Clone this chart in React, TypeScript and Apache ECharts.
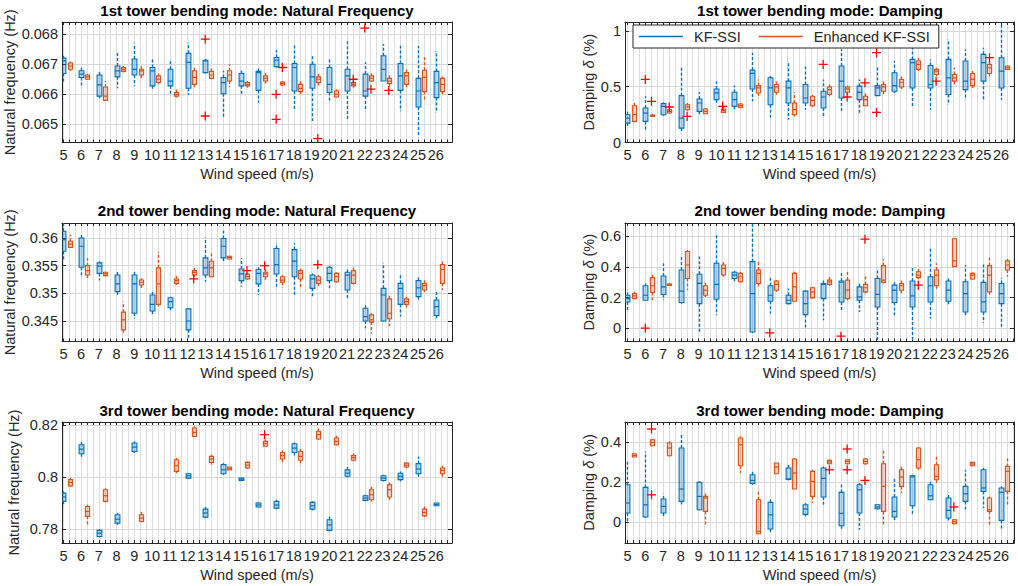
import React, { useEffect, useRef } from "react";
import * as echarts from "echarts";

// ---------- Data ----------
const windSpeeds = [5, 6, 7, 8, 9, 10, 11, 12, 13, 14, 15, 16, 17, 18, 19, 20, 21, 22, 23, 24, 25, 26];
const seriesNames = ["KF-SSI", "Enhanced KF-SSI"];

// Box entries: [min whisker, q1, median, q3, max whisker]; null = no identification
const f1Kf = [
  [0.06642, 0.06669, 0.06711, 0.0672, 0.06728], [0.06628, 0.06656, 0.06667, 0.06678, 0.06689],
  [0.06587, 0.06594, 0.06631, 0.06664, 0.06678], [0.0662, 0.06658, 0.06678, 0.06694, 0.06739],
  [0.06628, 0.06664, 0.06683, 0.06717, 0.06769], [0.06617, 0.06628, 0.06678, 0.06689, 0.06722],
  [0.06594, 0.06628, 0.06644, 0.06683, 0.06717], [0.06598, 0.0662, 0.06706, 0.06736, 0.06772],
  [0.06669, 0.06672, 0.06711, 0.06713, 0.06717], [0.06522, 0.06602, 0.06639, 0.06656, 0.06678],
  [0.06598, 0.06628, 0.06644, 0.06669, 0.06683], [0.06572, 0.06613, 0.06672, 0.06676, 0.06689],
  [0.06689, 0.06692, 0.06713, 0.06722, 0.06747], [0.0655, 0.06611, 0.06689, 0.06702, 0.06767],
  [0.06511, 0.0662, 0.06658, 0.067, 0.06733], [0.06572, 0.06606, 0.06633, 0.06689, 0.06722],
  [0.06511, 0.06611, 0.06661, 0.06683, 0.06778], [0.06544, 0.06594, 0.06611, 0.06667, 0.06706],
  [0.06644, 0.06644, 0.06683, 0.06728, 0.06767], [0.06544, 0.06613, 0.06661, 0.06702, 0.06761],
  [0.06461, 0.06558, 0.06611, 0.06653, 0.06761], [0.06539, 0.06589, 0.06639, 0.06676, 0.06744],
];
const f1En = [
  [0.06678, 0.06683, 0.06694, 0.06704, 0.06709], [0.06648, 0.0665, 0.06658, 0.06664, 0.06667],
  [0.06578, 0.0658, 0.06594, 0.06624, 0.06644], [0.06672, 0.06676, 0.06683, 0.06689, 0.06694],
  [0.06653, 0.06664, 0.06678, 0.06683, 0.06694], [0.06633, 0.06639, 0.0665, 0.06661, 0.06669],
  [0.06589, 0.06594, 0.066, 0.06606, 0.0662], [0.0662, 0.06633, 0.06656, 0.06678, 0.06689],
  [0.0665, 0.06653, 0.06664, 0.06676, 0.06689], [0.06624, 0.06644, 0.06664, 0.06678, 0.067],
  [0.06622, 0.06628, 0.06633, 0.06639, 0.06644], [0.06636, 0.06644, 0.06653, 0.06661, 0.06672],
  [0.06628, 0.06631, 0.06636, 0.06641, 0.06644], [0.066, 0.06609, 0.0662, 0.06633, 0.06644],
  [0.06628, 0.06639, 0.0665, 0.06658, 0.06667], [0.06589, 0.06591, 0.066, 0.06611, 0.06617],
  [0.06622, 0.06628, 0.06633, 0.06639, 0.06644], [0.06641, 0.06644, 0.06653, 0.06661, 0.06669],
  [0.06628, 0.06636, 0.06644, 0.06653, 0.06667], [0.06622, 0.06633, 0.06661, 0.06672, 0.06683],
  [0.06578, 0.06609, 0.06656, 0.0668, 0.06728], [0.066, 0.06609, 0.06633, 0.06653, 0.06658],
];
const f1OutKf = [[13, 0.06783], [13, 0.06528], [17, 0.066], [17, 0.06517], [22, 0.0682]];
const f1OutEn = [[17, 0.06689], [19, 0.06453], [21, 0.0665], [22, 0.06617], [23, 0.06613]];

const d1Kf = [
  [0.129, 0.174, 0.219, 0.249, 0.279], [0.099, 0.189, 0.264, 0.309, 0.414],
  [0.24, 0.249, 0.324, 0.348, 0.36], [0.084, 0.129, 0.219, 0.42, 0.685],
  [0.249, 0.279, 0.354, 0.39, 0.45], [0.354, 0.384, 0.444, 0.48, 0.55],
  [0.294, 0.324, 0.384, 0.45, 0.51], [0.369, 0.48, 0.619, 0.649, 0.805],
  [0.204, 0.339, 0.489, 0.58, 0.595], [0.204, 0.354, 0.489, 0.55, 0.73],
  [0.294, 0.354, 0.399, 0.52, 0.685], [0.234, 0.309, 0.408, 0.46, 0.565],
  [0.279, 0.399, 0.55, 0.685, 0.835], [0.249, 0.384, 0.45, 0.505, 0.565],
  [0.42, 0.42, 0.489, 0.51, 0.685], [0.444, 0.46, 0.51, 0.625, 0.73],
  [0.324, 0.489, 0.715, 0.745, 0.865], [0.294, 0.489, 0.52, 0.69, 0.745],
  [0.339, 0.43, 0.58, 0.745, 0.925], [0.384, 0.474, 0.55, 0.73, 0.835],
  [0.384, 0.55, 0.715, 0.79, 0.85], [0.384, 0.489, 0.64, 0.76, 1.06],
];
const d1En = [
  [0.18, 0.189, 0.249, 0.33, 0.354], [0.231, 0.234, 0.24, 0.246, 0.255],
  [0.258, 0.264, 0.279, 0.294, 0.309], [0.279, 0.294, 0.318, 0.339, 0.354],
  [0.255, 0.258, 0.279, 0.3, 0.309], [0.264, 0.27, 0.285, 0.3, 0.324],
  [0.309, 0.315, 0.33, 0.345, 0.354], [0.399, 0.444, 0.489, 0.51, 0.565],
  [0.429, 0.45, 0.498, 0.52, 0.565], [0.234, 0.249, 0.294, 0.354, 0.45],
  [0.318, 0.33, 0.378, 0.414, 0.429], [0.414, 0.43, 0.474, 0.498, 0.52],
  [0.429, 0.45, 0.48, 0.498, 0.51], [0.324, 0.33, 0.384, 0.414, 0.459],
  [0.429, 0.46, 0.498, 0.52, 0.565], [0.48, 0.498, 0.54, 0.565, 0.595],
  [0.64, 0.655, 0.7, 0.73, 0.76], [0.595, 0.61, 0.64, 0.655, 0.67],
  [0.52, 0.55, 0.58, 0.61, 0.67], [0.489, 0.51, 0.565, 0.619, 0.64],
  [0.58, 0.619, 0.67, 0.7, 0.745], [0.649, 0.655, 0.67, 0.685, 0.69],
];
const d1OutKf = [[6, 0.565], [16, 0.7], [19, 0.805], [19, 0.27]];
const d1OutEn = [[6, 0.369], [7, 0.318], [8, 0.234], [10, 0.324], [17, 0.408], [18, 0.535], [22, 0.55], [25, 0.76]];

const f2Kf = [
  [0.3558, 0.3576, 0.3597, 0.3612, 0.3627], [0.3529, 0.3547, 0.3585, 0.36, 0.3606],
  [0.3523, 0.3536, 0.3549, 0.3555, 0.3558], [0.3497, 0.3503, 0.3517, 0.3533, 0.3541],
  [0.3454, 0.3464, 0.3517, 0.3533, 0.354], [0.3461, 0.3468, 0.348, 0.3497, 0.3503],
  [0.347, 0.3474, 0.3485, 0.3492, 0.3494], [0.3419, 0.3434, 0.345, 0.3472, 0.3473],
  [0.3521, 0.3533, 0.3546, 0.3564, 0.3601], [0.3558, 0.3564, 0.3585, 0.3599, 0.3613],
  [0.3512, 0.3523, 0.3535, 0.3544, 0.3564], [0.3497, 0.3517, 0.3536, 0.3543, 0.3547],
  [0.3512, 0.3535, 0.3552, 0.3581, 0.3591], [0.3497, 0.353, 0.3558, 0.3579, 0.3591],
  [0.3491, 0.3509, 0.3526, 0.3533, 0.3536], [0.3509, 0.3523, 0.3536, 0.3547, 0.355],
  [0.3491, 0.3506, 0.3533, 0.3538, 0.3543], [0.3437, 0.345, 0.3458, 0.3473, 0.3482],
  [0.3449, 0.345, 0.3497, 0.3509, 0.3555], [0.3458, 0.348, 0.3509, 0.3518, 0.3536],
  [0.3485, 0.3494, 0.351, 0.3523, 0.3529], [0.3455, 0.346, 0.3476, 0.3488, 0.3503],
];
const f2En = [
  [0.3582, 0.3583, 0.3589, 0.3594, 0.3606], [0.3527, 0.3533, 0.3541, 0.355, 0.3564],
  [0.3531, 0.3532, 0.3535, 0.3538, 0.3539], [0.3428, 0.3434, 0.3452, 0.3466, 0.3485],
  [0.3509, 0.3515, 0.352, 0.3524, 0.3527], [0.3476, 0.348, 0.3517, 0.3546, 0.3575],
  [0.3515, 0.3518, 0.3523, 0.3526, 0.3533], [0.353, 0.3533, 0.3538, 0.3541, 0.3546],
  [0.3529, 0.353, 0.3546, 0.3558, 0.3573], [0.3562, 0.3562, 0.3565, 0.3567, 0.3568],
  [0.3524, 0.3526, 0.353, 0.3535, 0.3537], [0.3524, 0.353, 0.3535, 0.3538, 0.3546],
  [0.351, 0.352, 0.3524, 0.353, 0.3533], [0.3508, 0.3526, 0.3536, 0.3541, 0.3545],
  [0.3512, 0.3518, 0.3524, 0.353, 0.3533], [0.3519, 0.3521, 0.353, 0.3536, 0.3538],
  [0.3516, 0.3518, 0.3533, 0.3541, 0.3549], [0.3428, 0.3448, 0.3452, 0.3461, 0.3464],
  [0.3441, 0.3454, 0.3464, 0.349, 0.3496], [0.3474, 0.348, 0.3485, 0.349, 0.3494],
  [0.3502, 0.3506, 0.3514, 0.3518, 0.3524], [0.3506, 0.3518, 0.3543, 0.3552, 0.3561],
];
const f2OutKf: number[][] = [];
const f2OutEn = [[12, 0.3526], [15, 0.3541], [16, 0.355], [19, 0.3552]];

const d2Kf = [
  [0.116, 0.171, 0.193, 0.215, 0.233], [0.182, 0.182, 0.215, 0.277, 0.292],
  [0.182, 0.22, 0.27, 0.341, 0.424], [0.16, 0.167, 0.242, 0.38, 0.468],
  [-0.026, 0.16, 0.292, 0.352, 0.468], [0.084, 0.189, 0.286, 0.424, 0.611],
  [0.307, 0.325, 0.347, 0.365, 0.374], [-0.03, -0.026, 0.226, 0.435, 0.688],
  [0.095, 0.176, 0.215, 0.277, 0.336], [0.154, 0.16, 0.182, 0.215, 0.259],
  [-0.004, 0.088, 0.16, 0.242, 0.248], [0.051, 0.193, 0.286, 0.292, 0.314],
  [0.105, 0.171, 0.3, 0.308, 0.369], [0.105, 0.182, 0.204, 0.27, 0.299],
  [-0.092, 0.138, 0.22, 0.325, 0.38], [0.084, 0.167, 0.248, 0.281, 0.308],
  [-0.092, 0.138, 0.211, 0.308, 0.396], [0.062, 0.171, 0.277, 0.336, 0.523],
  [0.154, 0.176, 0.248, 0.308, 0.325], [0.073, 0.105, 0.226, 0.303, 0.413],
  [0.035, 0.105, 0.171, 0.299, 0.424], [0.007, 0.16, 0.226, 0.292, 0.33],
];
const d2En = [
  [0.189, 0.193, 0.211, 0.226, 0.237], [0.182, 0.233, 0.277, 0.33, 0.352],
  [0.281, 0.283, 0.286, 0.289, 0.292], [0.248, 0.325, 0.413, 0.501, 0.512],
  [0.204, 0.215, 0.248, 0.277, 0.308], [0.336, 0.347, 0.391, 0.413, 0.446],
  [0.299, 0.303, 0.336, 0.358, 0.369], [0.27, 0.292, 0.358, 0.38, 0.446],
  [0.237, 0.248, 0.286, 0.308, 0.314], [0.176, 0.176, 0.27, 0.358, 0.369],
  [0.193, 0.198, 0.237, 0.264, 0.27], [0.277, 0.286, 0.303, 0.314, 0.336],
  [0.182, 0.193, 0.248, 0.314, 0.374], [0.226, 0.237, 0.264, 0.286, 0.347],
  [0.292, 0.299, 0.314, 0.409, 0.453], [0.226, 0.248, 0.277, 0.292, 0.325],
  [0.321, 0.33, 0.347, 0.369, 0.387], [0.255, 0.277, 0.347, 0.38, 0.424],
  [0.402, 0.402, 0.44, 0.585, 0.589], [0.316, 0.321, 0.347, 0.358, 0.365],
  [0.22, 0.237, 0.347, 0.409, 0.468], [0.336, 0.38, 0.413, 0.44, 0.453],
];
const d2OutKf = [[6, 0], [13, -0.031], [17, -0.053]];
const d2OutEn = [[18, 0.582], [21, 0.281]];

const f3Kf = [
  [0.7886, 0.7906, 0.7923, 0.7938, 0.7945], [0.8074, 0.809, 0.8108, 0.8125, 0.8142],
  [0.7767, 0.777, 0.7783, 0.7794, 0.7799], [0.7815, 0.7822, 0.7837, 0.7854, 0.7861],
  [0.8093, 0.8099, 0.8116, 0.8132, 0.8138], null,
  null, [0.7992, 0.7996, 0.8005, 0.8013, 0.8016],
  [0.7841, 0.7845, 0.7861, 0.7876, 0.7884], [0.8009, 0.8013, 0.8028, 0.8048, 0.8054],
  [0.7986, 0.7987, 0.7992, 0.7996, 0.7997], [0.7882, 0.7884, 0.7892, 0.79, 0.7903],
  [0.7876, 0.788, 0.7892, 0.7906, 0.7912], [0.8083, 0.8095, 0.8112, 0.8129, 0.8134],
  [0.7871, 0.7876, 0.7889, 0.7902, 0.7906], [0.779, 0.7794, 0.7815, 0.7835, 0.7848],
  [0.7999, 0.8003, 0.8015, 0.8028, 0.8039], [0.7906, 0.791, 0.7919, 0.7928, 0.7932],
  [0.7983, 0.7987, 0.7996, 0.8005, 0.8009], [0.7983, 0.799, 0.8003, 0.8015, 0.8022],
  [0.8, 0.8013, 0.8031, 0.8052, 0.808], [0.7889, 0.7889, 0.7894, 0.79, 0.79],
];
const f3En = [
  [0.7963, 0.7966, 0.7979, 0.799, 0.7997], [0.7815, 0.7848, 0.7867, 0.7886, 0.7893],
  [0.7902, 0.7906, 0.7928, 0.7951, 0.7957], null,
  [0.7825, 0.7828, 0.7841, 0.7854, 0.7871], null,
  [0.8015, 0.8022, 0.8044, 0.8067, 0.8074], [0.8155, 0.8157, 0.8173, 0.819, 0.8196],
  [0.8048, 0.8057, 0.807, 0.808, 0.8086], [0.8028, 0.8028, 0.8034, 0.8039, 0.8039],
  [0.8031, 0.8035, 0.8046, 0.8057, 0.8061], [0.8116, 0.8119, 0.8129, 0.8138, 0.8145],
  [0.8052, 0.807, 0.8083, 0.8095, 0.8103], [0.8044, 0.8065, 0.808, 0.8099, 0.8108],
  [0.8145, 0.8147, 0.8164, 0.8177, 0.819], [0.8122, 0.8125, 0.8138, 0.8151, 0.816],
  [0.8061, 0.8065, 0.8075, 0.8083, 0.8091], [0.7906, 0.7912, 0.7932, 0.7951, 0.7964],
  [0.7912, 0.7923, 0.7951, 0.797, 0.7979], [0.8035, 0.8039, 0.8046, 0.8054, 0.8057],
  [0.7845, 0.785, 0.7863, 0.7876, 0.7886], [0.8, 0.8013, 0.8026, 0.8035, 0.8044],
];
const f3OutKf: number[][] = [];
const f3OutEn = [[16, 0.8164]];

const d3Kf = [
  [-0.003, 0.047, 0.097, 0.188, 0.305], [0.022, 0.027, 0.088, 0.175, 0.355],
  [0.022, 0.047, 0.08, 0.117, 0.143], [0.08, 0.105, 0.167, 0.372, 0.438],
  [0.06, 0.063, 0.13, 0.2, 0.205], null,
  null, [0.188, 0.195, 0.21, 0.238, 0.26],
  [-0.057, -0.033, 0.038, 0.1, 0.122], [0.21, 0.215, 0.217, 0.272, 0.297],
  [0.03, 0.04, 0.067, 0.088, 0.097], [0.088, 0.127, 0.22, 0.272, 0.28],
  [-0.033, -0.017, 0.045, 0.15, 0.193], [-0.037, 0.047, 0.163, 0.188, 0.197],
  [0.063, 0.068, 0.077, 0.088, 0.09], [0.005, 0.027, 0.055, 0.127, 0.222],
  [0.038, 0.083, 0.228, 0.233, 0.238], [0.113, 0.113, 0.133, 0.188, 0.205],
  [0.01, 0.022, 0.06, 0.122, 0.15], [0.063, 0.105, 0.143, 0.18, 0.263],
  [0.072, 0.155, 0.172, 0.263, 0.272], [-0.037, 0.01, 0.15, 0.172, 0.18],
];
const d3En = [
  [0.327, 0.327, 0.335, 0.343, 0.343], [0.38, 0.383, 0.4, 0.413, 0.417],
  [0.33, 0.333, 0.372, 0.397, 0.405], null,
  [-0.017, 0.055, 0.122, 0.13, 0.155], null,
  [0.247, 0.283, 0.388, 0.422, 0.43], [-0.057, -0.057, -0.045, 0.113, 0.163],
  [0.243, 0.243, 0.277, 0.297, 0.297], [0.167, 0.167, 0.247, 0.317, 0.322],
  [0.097, 0.13, 0.205, 0.255, 0.263], [0.29, 0.293, 0.302, 0.31, 0.313],
  [0.29, 0.293, 0.305, 0.313, 0.313], [0.288, 0.293, 0.305, 0.317, 0.322],
  [-0.012, 0.055, 0.18, 0.293, 0.363], [0.147, 0.18, 0.227, 0.263, 0.28],
  [0.263, 0.272, 0.313, 0.372, 0.377], [0.193, 0.213, 0.23, 0.288, 0.338],
  [-0.01, -0.007, 0.003, 0.013, 0.017], [0.28, 0.283, 0.292, 0.3, 0.303],
  [-0.02, 0.055, 0.063, 0.122, 0.13], [0.08, 0.155, 0.255, 0.28, 0.33],
];
const d3OutKf: number[][] = [];
const d3OutEn = [[6, 0.467], [6, 0.138], [16, 0.263], [17, 0.367], [17, 0.263], [18, 0.21], [23, 0.077]];

// y tick labels per panel
const f1Ticks = [0.065, 0.066, 0.067, 0.068];
const d1Ticks = [0, 0.5, 1];
const f2Ticks = [0.345, 0.35, 0.355, 0.36];
const d2Ticks = [0, 0.2, 0.4, 0.6];
const f3Ticks = [0.78, 0.8, 0.82];
const d3Ticks = [0, 0.2, 0.4];

// ---------- Styling / layout ----------
const BLUE = "#0072BD";
const ORANGE = "#D95319";
const BLUE_FILL = "rgba(0,114,189,0.28)";
const ORANGE_FILL = "rgba(217,83,25,0.28)";
const AX = "#262626";
const FONT = "Liberation Sans";
const EN_OFFSET = 0.35;

const panels = [
  { title: "1st tower bending mode: Natural Frequency", yName: "Natural frequency (Hz)", kf: f1Kf, en: f1En, oKf: f1OutKf, oEn: f1OutEn, yMin: 0.0644, yMax: 0.0684, ticks: f1Ticks, col: 0, row: 0 },
  { title: "1st tower bending mode: Damping", yName: "Damping {i|δ} (%)", kf: d1Kf, en: d1En, oKf: d1OutKf, oEn: d1OutEn, yMin: 0, yMax: 1.08, ticks: d1Ticks, col: 1, row: 0 },
  { title: "2nd tower bending mode: Natural Frequency", yName: "Natural frequency (Hz)", kf: f2Kf, en: f2En, oKf: f2OutKf, oEn: f2OutEn, yMin: 0.3413, yMax: 0.3627, ticks: f2Ticks, col: 0, row: 1 },
  { title: "2nd tower bending mode: Damping", yName: "Damping {i|δ} (%)", kf: d2Kf, en: d2En, oKf: d2OutKf, oEn: d2OutEn, yMin: -0.088, yMax: 0.688, ticks: d2Ticks, col: 1, row: 1 },
  { title: "3rd tower bending mode: Natural Frequency", yName: "Natural frequency (Hz)", kf: f3Kf, en: f3En, oKf: f3OutKf, oEn: f3OutEn, yMin: 0.7745, yMax: 0.8213, ticks: f3Ticks, col: 0, row: 2 },
  { title: "3rd tower bending mode: Damping", yName: "Damping {i|δ} (%)", kf: d3Kf, en: d3En, oKf: d3OutKf, oEn: d3OutEn, yMin: -0.103, yMax: 0.502, ticks: d3Ticks, col: 1, row: 2 },
];

const colLayout = [
  { left: 62, width: 390, xMin: -0.08, xMax: 21.92, yNameGap: 41, titleX: 257 },
  { left: 625, width: 389, xMin: -0.14, xMax: 21.73, yNameGap: 21, titleX: 820 },
];
const rowLayout = [
  { top: 22, height: 120.5, titleTop: 3 },
  { top: 223, height: 118.5, titleTop: 203 },
  { top: 422, height: 121, titleTop: 402.5 },
];

const xTickValues: number[] = [];
windSpeeds.forEach((_, i) => {
  for (let j = 0; j < 3; j++) xTickValues.push(i + j / 3);
});
const xLabelValues = windSpeeds.map((_, i) => i);

function boxRender(color: string, fill: string, halfW: number) {
  return (params: any, api: any) => {
    const x = api.value(0);
    const pMin = api.coord([x, api.value(1)]);
    const pQ1 = api.coord([x, api.value(2)]);
    const pMed = api.coord([x, api.value(3)]);
    const pQ3 = api.coord([x, api.value(4)]);
    const pMax = api.coord([x, api.value(5)]);
    const cx = Math.round(pMed[0]) + 0.5;
    const whisk = { stroke: color, lineWidth: 1.4, lineDash: [3, 2] };
    return {
      type: "group",
      children: [
        { type: "line", shape: { x1: cx, y1: pQ3[1], x2: cx, y2: pMax[1] }, style: whisk },
        { type: "line", shape: { x1: cx, y1: pQ1[1], x2: cx, y2: pMin[1] }, style: whisk },
        {
          type: "rect",
          shape: { x: cx - halfW, y: pQ3[1], width: halfW * 2, height: Math.max(pQ1[1] - pQ3[1], 1.5) },
          style: { fill, stroke: color, lineWidth: 1.1 },
        },
        { type: "line", shape: { x1: cx - halfW, y1: pMed[1], x2: cx + halfW, y2: pMed[1] }, style: { stroke: color, lineWidth: 1.2 } },
      ],
    };
  };
}

function plusRender(params: any, api: any) {
  const p = api.coord([api.value(0), api.value(1)]);
  const s = 4.5;
  const st = { stroke: "#FF0000", lineWidth: 1.3 };
  return {
    type: "group",
    children: [
      { type: "line", shape: { x1: p[0] - s, y1: p[1], x2: p[0] + s, y2: p[1] }, style: st },
      { type: "line", shape: { x1: p[0], y1: p[1] - s, x2: p[0], y2: p[1] + s }, style: st },
    ],
  };
}

function buildOption() {
  const grid: any[] = [];
  const xAxis: any[] = [];
  const yAxis: any[] = [];
  const series: any[] = [];
  const title: any[] = [];
  const lbl = { fontFamily: FONT, fontSize: 14.5, color: AX };

  panels.forEach((p, k) => {
    const c = colLayout[p.col];
    const r = rowLayout[p.row];
    grid.push({ left: c.left, top: r.top, width: c.width, height: r.height, containLabel: false });
    title.push({
      text: p.title,
      left: c.titleX,
      top: r.titleTop,
      textAlign: "center",
      padding: 0,
      textStyle: { fontFamily: FONT, fontSize: 15, fontWeight: "bold", color: "#000" },
    });
    const xBase = {
      type: "value",
      gridIndex: k,
      min: c.xMin,
      max: c.xMax,
      axisLine: { show: true, onZero: false, lineStyle: { color: AX, width: 1 } },
      axisTick: { show: true, inside: true, length: 3, customValues: xTickValues, lineStyle: { color: AX } },
    };
    xAxis.push({
      ...xBase,
      position: "bottom",
      name: "Wind speed (m/s)",
      nameLocation: "middle",
      nameGap: 24,
      nameTextStyle: lbl,
      axisLabel: { ...lbl, margin: 5, customValues: xLabelValues, formatter: (v: number) => String(windSpeeds[Math.round(v)]) },
      splitLine: { show: true, lineStyle: { color: "#dcdcdc", width: 1 } },
    });
    xAxis.push({ ...xBase, position: "top", axisLabel: { show: false }, splitLine: { show: false } });
    const yBase = {
      type: "value",
      gridIndex: k,
      min: p.yMin,
      max: p.yMax,
      axisLine: { show: true, onZero: false, lineStyle: { color: AX, width: 1 } },
      axisTick: { show: true, inside: true, length: 4, customValues: p.ticks, lineStyle: { color: AX } },
    };
    yAxis.push({
      ...yBase,
      position: "left",
      name: p.yName,
      nameLocation: "middle",
      nameGap: c.yNameGap,
      nameTextStyle: { ...lbl, rich: { i: { ...lbl, fontStyle: "italic" } } },
      axisLabel: { ...lbl, margin: 4, customValues: p.ticks, formatter: (v: number) => String(v) },
      splitLine: { show: true, lineStyle: { color: "#d6d6d6", width: 1 } },
    });
    yAxis.push({ ...yBase, position: "right", axisLabel: { show: false }, splitLine: { show: false } });

    const kfData = p.kf.map((b, i) => (b ? [i, ...b] : null)).filter((d) => d !== null);
    const enData = p.en.map((b, i) => (b ? [i + EN_OFFSET, ...b] : null)).filter((d) => d !== null);
    series.push({
      type: "custom",
      name: seriesNames[0],
      xAxisIndex: 2 * k,
      yAxisIndex: 2 * k,
      clip: true,
      itemStyle: { color: BLUE },
      renderItem: boxRender(BLUE, BLUE_FILL, 2.4),
      encode: { x: 0, y: [1, 2, 3, 4, 5] },
      data: kfData,
      z: 3,
    });
    series.push({
      type: "custom",
      name: seriesNames[1],
      xAxisIndex: 2 * k,
      yAxisIndex: 2 * k,
      clip: true,
      itemStyle: { color: ORANGE },
      renderItem: boxRender(ORANGE, ORANGE_FILL, 2.1),
      encode: { x: 0, y: [1, 2, 3, 4, 5] },
      data: enData,
      z: 3,
    });
    const outs = [
      ...p.oKf.map((o) => [windSpeeds.indexOf(o[0]), o[1]]),
      ...p.oEn.map((o) => [windSpeeds.indexOf(o[0]) + EN_OFFSET, o[1]]),
    ];
    series.push({
      type: "custom",
      name: "outliers",
      xAxisIndex: 2 * k,
      yAxisIndex: 2 * k,
      clip: true,
      renderItem: plusRender,
      encode: { x: 0, y: 1 },
      data: outs,
      z: 4,
    });
  });

  return {
    animation: false,
    backgroundColor: "#ffffff",
    title,
    grid,
    xAxis,
    yAxis,
    series,
    legend: {
      data: [
        { name: seriesNames[0], icon: "rect" },
        { name: seriesNames[1], icon: "rect" },
      ],
      left: 633,
      top: 25,
      orient: "horizontal",
      itemWidth: 44,
      itemHeight: 1.6,
      itemGap: 18,
      padding: [4, 9, 4, 6],
      backgroundColor: "#ffffff",
      borderColor: AX,
      borderWidth: 1,
      borderRadius: 0,
      textStyle: { fontFamily: FONT, fontSize: 14.5, color: AX, padding: [0, 0, 0, 6] },
      selectedMode: false,
      z: 10,
    },
  };
}

export default function App() {
  const ref = useRef<HTMLDivElement>(null);
  useEffect(() => {
    if (!ref.current) return;
    const chart = echarts.init(ref.current, null, { renderer: "svg" });
    chart.setOption(buildOption() as any);
    return () => chart.dispose();
  }, []);
  return (
    <div
      ref={ref}
      style={{ position: "fixed", left: 0, top: 0, width: 1018, height: 586, background: "#fff" }}
    />
  );
}
